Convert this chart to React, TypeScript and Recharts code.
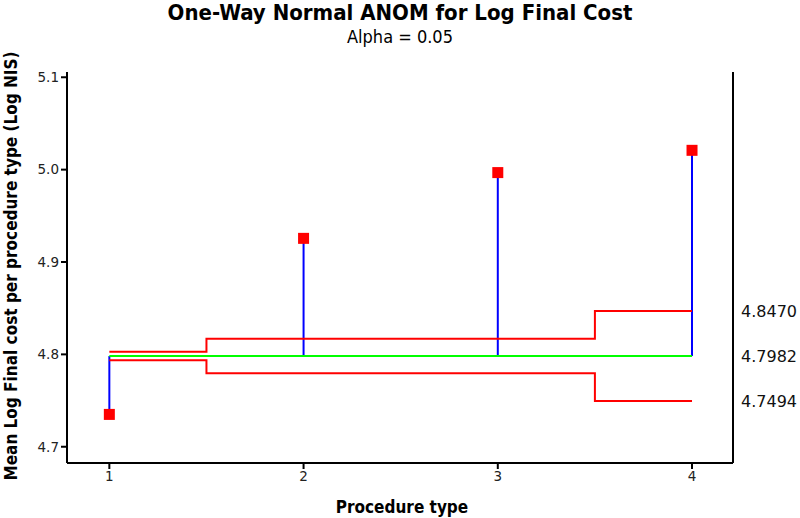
import React from "react";
import {
  ComposedChart,
  Line,
  Scatter,
  XAxis,
  YAxis,
  ReferenceLine,
} from "recharts";

// group means (Log Final Cost per procedure type)
const groups = [1, 2, 3, 4];
const means = [4.735, 4.9256, 4.9968, 5.0209];
const center = 4.7982;
const upper = [4.8028, 4.8168, 4.8168, 4.847];
const lower = [4.7936, 4.7796, 4.7796, 4.7494];
const rightTicks = [4.7494, 4.7982, 4.847];
const yTicks = [4.7, 4.8, 4.9, 5.0, 5.1];

const limitData = groups.map((g, i) => ({
  x: g,
  upper: upper[i],
  lower: lower[i],
  center,
}));
const pointData = groups.map((g, i) => ({ x: g, y: means[i] }));

const RED = "#ff0000";
const BLUE = "#0000ff";
const GREEN = "#00ff00";
const FONT = "'DejaVu Sans', Verdana, sans-serif";
const COND = "'DejaVu Sans Condensed', 'DejaVu Sans', sans-serif";

const SquareDot = (props: any) => {
  const { cx, cy } = props;
  return <rect x={cx - 5.5} y={cy - 5.5} width={11} height={11} fill={RED} />;
};

export default function App() {
  return (
    <div style={{ position: "absolute", left: 0, top: 0, width: 800, height: 518, background: "#fff" }}>
      <div
        style={{
          position: "absolute",
          top: 0,
          width: 800,
          textAlign: "center",
          fontFamily: COND,
          fontWeight: "bold",
          fontSize: 22,
          color: "#000",
        }}
      >
        One-Way Normal ANOM for Log Final Cost
      </div>
      <div
        style={{
          position: "absolute",
          top: 26,
          width: 800,
          textAlign: "center",
          fontFamily: COND,
          fontSize: 18,
          color: "#000",
        }}
      >
        Alpha = 0.05
      </div>
      <div
        style={{
          position: "absolute",
          left: 11,
          top: 266,
          transform: "translate(-50%, -50%) rotate(-90deg)",
          whiteSpace: "nowrap",
          fontFamily: COND,
          fontWeight: "bold",
          fontSize: 17,
          color: "#000",
        }}
      >
        Mean Log Final cost per procedure type (Log NIS)
      </div>
      <div
        style={{
          position: "absolute",
          top: 497,
          left: 2,
          width: 800,
          textAlign: "center",
          fontFamily: COND,
          fontWeight: "bold",
          fontSize: 17,
          color: "#000",
        }}
      >
        Procedure type
      </div>
      <ComposedChart
        width={800}
        height={518}
        data={limitData}
        margin={{ top: 72, right: 7, bottom: 25, left: 17 }}
        style={{ position: "absolute", left: 0, top: 0 }}
      >
        <XAxis
          dataKey="x"
          type="number"
          domain={[0.782, 4.211]}
          ticks={groups}
          allowDataOverflow
          height={30}
          tick={{ fontSize: 13.5, fill: "#222", fontFamily: FONT }}
          tickLine={{ stroke: "#000", strokeWidth: 2 }}
          tickSize={6}
          axisLine={{ stroke: "#000", strokeWidth: 2 }}
        />
        <XAxis
          xAxisId="top"
          dataKey="x"
          type="number"
          orientation="top"
          domain={[0.782, 4.211]}
          height={0}
          tick={false}
          tickLine={false}
          axisLine={{ stroke: "#000", strokeWidth: 2 }}
        />
        <YAxis
          type="number"
          domain={[4.6824, 5.1057]}
          ticks={yTicks}
          allowDataOverflow
          width={50}
          tickFormatter={(v: number) => v.toFixed(1)}
          tick={{ fontSize: 13.5, fill: "#222", fontFamily: FONT }}
          tickLine={{ stroke: "#000", strokeWidth: 2 }}
          tickSize={6}
          axisLine={{ stroke: "#000", strokeWidth: 2 }}
        />
        <YAxis
          yAxisId="right"
          orientation="right"
          type="number"
          domain={[4.6824, 5.1057]}
          ticks={rightTicks}
          allowDataOverflow
          width={60}
          tickFormatter={(v: number) => v.toFixed(4)}
          tick={{ fontSize: 16, fill: "#111", fontFamily: FONT }}
          tickLine={false}
          tickSize={6}
          axisLine={{ stroke: "#000", strokeWidth: 2 }}
        />
        {groups.map((g, i) => (
          <ReferenceLine
            key={g}
            segment={[
              { x: g, y: center },
              { x: g, y: means[i] },
            ]}
            stroke={BLUE}
            strokeWidth={2}
          />
        ))}
        <Line
          dataKey="center"
          type="linear"
          stroke={GREEN}
          strokeWidth={2}
          dot={false}
          isAnimationActive={false}
        />
        <Line
          dataKey="upper"
          type="step"
          stroke={RED}
          strokeWidth={2}
          dot={false}
          isAnimationActive={false}
        />
        <Line
          dataKey="lower"
          type="step"
          stroke={RED}
          strokeWidth={2}
          dot={false}
          isAnimationActive={false}
        />
        <Scatter
          data={pointData}
          dataKey="y"
          shape={<SquareDot />}
          isAnimationActive={false}
        />
      </ComposedChart>
    </div>
  );
}
